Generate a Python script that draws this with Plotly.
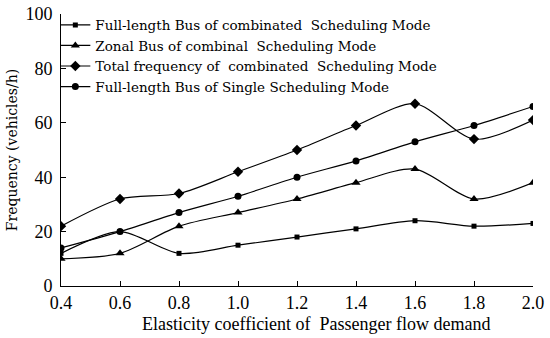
import plotly.graph_objects as go

x_vals = [0.4, 0.6, 0.8, 1.0, 1.2, 1.4, 1.6, 1.8, 2.0]
full_comb = [12, 20, 12, 15, 18, 21, 24, 22, 23]
zonal_comb = [10, 12, 22, 27, 32, 38, 43, 32, 38]
total_comb = [22, 32, 34, 42, 50, 59, 67, 54, 61]
full_single = [14, 20, 27, 33, 40, 46, 53, 59, 66]

names = [
    "Full-length Bus of combinated  Scheduling Mode",
    "Zonal Bus of combinal  Scheduling Mode",
    "Total frequency of  combinated  Scheduling Mode",
    "Full-length Bus of Single Scheduling Mode",
]
series = [full_comb, zonal_comb, total_comb, full_single]
symbols = ["square", "triangle-up", "diamond", "circle"]
sizes = [5, 8, 8, 7]

x_title = "Elasticity coefficient of  Passenger flow demand"
y_title = "Frequency (vehicles/h)"

SERIF = "Liberation Serif, Times New Roman, serif"
BOOK = "DejaVu Serif, serif"

fig = go.Figure()
for n, s, sym, sz in zip(names, series, symbols, sizes):
    fig.add_trace(go.Scatter(
        x=x_vals, y=s, name=n, mode="lines+markers",
        line=dict(color="black", width=1.2, shape="spline", smoothing=0.8),
        marker=dict(symbol=sym, size=sz, color="black"),
    ))

fig.add_annotation(
    text=x_title, xref="paper", yref="paper", x=0.542, y=-0.14,
    xanchor="center", yanchor="middle", showarrow=False,
    font=dict(family=SERIF, size=18, color="black"),
)

fig.update_layout(
    width=550, height=338,
    margin=dict(l=61, r=17, t=10, b=52),
    plot_bgcolor="white", paper_bgcolor="white",
    font=dict(family=SERIF, color="black"),
    showlegend=True,
    legend=dict(x=-0.012, y=1.016, xanchor="left", yanchor="top",
                font=dict(family=BOOK, size=13.5, color="black"),
                bgcolor="rgba(0,0,0,0)", tracegroupgap=0, itemwidth=30),
    xaxis=dict(
        range=[0.4, 2.0], tickvals=x_vals,
        ticktext=[f"{v:.1f}" for v in x_vals],
        showline=True, linecolor="black", linewidth=1,
        ticks="inside", ticklen=5, tickcolor="black",
        showgrid=False, zeroline=False, automargin=False,
        tickfont=dict(family=SERIF, size=18),
    ),
    yaxis=dict(
        range=[0, 100], tickvals=[0, 20, 40, 60, 80, 100],
        showline=True, linecolor="black", linewidth=1,
        ticks="inside", ticklen=5, tickcolor="black",
        showgrid=False, zeroline=False, automargin=False,
        ticklabelstandoff=4,
        tickfont=dict(family=SERIF, size=18),
        title=dict(text=y_title, font=dict(family=BOOK, size=14), standoff=4),
    ),
)

fig.write_html("out.html", config={"displayModeBar": False},
               post_script="document.body.style.margin='0';document.body.style.padding='0';")
